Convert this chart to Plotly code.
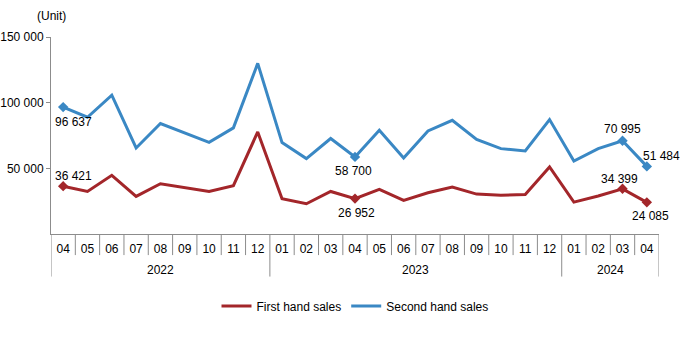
import plotly.graph_objects as go

months = ["04","05","06","07","08","09","10","11","12",
          "01","02","03","04","05","06","07","08","09","10","11","12",
          "01","02","03","04"]
years = ["2022"]*9 + ["2023"]*12 + ["2024"]*4
year_labels = ["2022", "2023", "2024"]

first_hand = [36421, 32400, 44700, 28600, 38300, 35500, 32400, 36800, 77700,
              26900, 23000, 32400, 26952, 34000, 25600, 31400, 35700, 30400, 29600, 30100, 51000,
              24300, 28900, 34399, 24085]
second_hand = [96637, 88900, 105700, 65500, 84100, 77000, 69800, 80800, 129900,
               69600, 57400, 72700, 58700, 79000, 57900, 78500, 86600, 72000, 65000, 63200, 87100,
               55600, 65000, 70995, 51484]

labelled = [0, 12, 23, 24]
# label offsets (xshift, yshift) per labelled point
first_offsets = {0: (10, 10), 12: (1, -14), 23: (-3, 10), 24: (4, -14)}
second_offsets = {0: (10, -15), 12: (-2, -14), 23: (0, 12), 24: (15, 10)}

RED = "#A3262A"
BLUE = "#3A88C4"
GREY = "#8C8C8C"
FONT = "Liberation Sans, Arial, sans-serif"

cats = [f"{y}-{m}" for y, m in zip(years, months)]

fig = go.Figure()
fig.add_trace(go.Scatter(x=cats, y=first_hand, mode="lines", name="First hand sales",
                         line=dict(color=RED, width=3)))
fig.add_trace(go.Scatter(x=cats, y=second_hand, mode="lines", name="Second hand sales",
                         line=dict(color=BLUE, width=3)))
fig.add_trace(go.Scatter(x=[cats[i] for i in labelled], y=[first_hand[i] for i in labelled],
                         mode="markers", showlegend=False,
                         marker=dict(symbol="diamond", size=8, color=RED)))
fig.add_trace(go.Scatter(x=[cats[i] for i in labelled], y=[second_hand[i] for i in labelled],
                         mode="markers", showlegend=False,
                         marker=dict(symbol="diamond", size=8, color=BLUE)))

def fmt(v):
    return f"{v:,}".replace(",", " ")

annotations = []
for series, offs, col in [(first_hand, first_offsets, RED), (second_hand, second_offsets, BLUE)]:
    for i in labelled:
        dx, dy = offs[i]
        annotations.append(dict(x=cats[i], y=series[i], text=fmt(series[i]), showarrow=False,
                                xshift=dx, yshift=dy, font=dict(size=12, color="#000000", family=FONT)))

# year labels and separators
shapes = []
n = len(cats)
for k in range(n + 1):
    pos = k - 0.5
    is_year_edge = k == 0 or k == n or years[k] != years[k - 1]
    shapes.append(dict(type="line", xref="x", yref="paper", x0=pos, x1=pos, y0=0,
                       y1=-0.216 if is_year_edge else -0.107,
                       line=dict(color=GREY, width=1)))
for yl in year_labels:
    idx = [i for i, y in enumerate(years) if y == yl]
    center = (idx[0] + idx[-1]) / 2
    annotations.append(dict(x=center, y=-0.183, xref="x", yref="paper", text=yl, showarrow=False,
                            yanchor="middle", font=dict(size=12, color="#000000", family=FONT)))

annotations.append(dict(x=0, y=1, xref="paper", yref="paper", text="(Unit)", showarrow=False,
                        xanchor="center", yanchor="bottom", yshift=12,
                        font=dict(size=12, color="#000000", family=FONT)))

fig.update_layout(
    width=682, height=352,
    margin=dict(l=51, r=23, t=37, b=118),
    paper_bgcolor="white", plot_bgcolor="white",
    font=dict(family=FONT, size=12, color="#000000"),
    showlegend=True,
    legend=dict(orientation="h", x=0.5, xanchor="center", y=-0.365, yanchor="middle",
                font=dict(size=12), itemwidth=30),
    annotations=annotations,
    shapes=shapes,
)
fig.update_xaxes(type="category", tickvals=cats, ticktext=months, showline=True,
                 linecolor=GREY, linewidth=1, ticks="outside", ticklen=4,
                 tickcolor="rgba(0,0,0,0)", showgrid=False, zeroline=False, automargin=False,
                 range=[-0.5, n - 0.5], tickfont=dict(size=12))
fig.update_yaxes(range=[0, 150000], tickvals=[50000, 100000, 150000],
                 ticktext=[fmt(v) for v in [50000, 100000, 150000]],
                 showline=True, linecolor=GREY, linewidth=1, ticks="outside", ticklen=4,
                 tickcolor=GREY, showgrid=False, zeroline=False, automargin=False,
                 tickfont=dict(size=12))

fig.write_html("out.html")
